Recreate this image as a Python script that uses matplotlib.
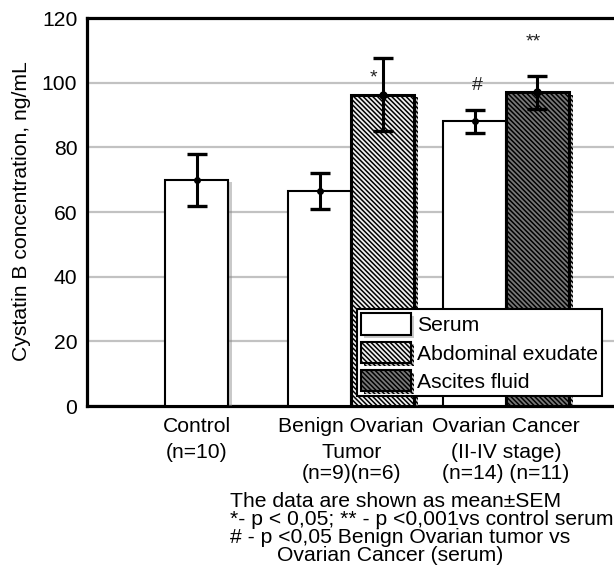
import numpy as np
import matplotlib
matplotlib.use('Agg')
import matplotlib.pyplot as plt
import matplotlib.transforms as mtransforms
import matplotlib.patheffects as pe
from matplotlib.patches import Patch

plt.rcParams['font.family'] = ['Liberation Sans', 'DejaVu Sans']
plt.rcParams['hatch.linewidth'] = 1.1

# data
groups = ['Control\n(n=10)', 'Benign Ovarian\nTumor', 'Ovarian Cancer\n(II-IV stage)']
n_labels = ['', '(n=9)(n=6)', '(n=14) (n=11)']
serum_mean = [70, 66.5, 88]
serum_sem = [8, 5.5, 3.7]
fluid_names = ['Abdominal exudate', 'Ascites fluid']
fluid_mean = [96.3, 97]      # benign tumor exudate, cancer ascites
fluid_sem = [11.3, 5]
sig_marks = ['*', '#', '**']
sig_y = [101.5, 99, 112.5]
notes = ['The data are shown as mean\u00b1SEM',
         '*- p < 0,05; ** - p <0,001vs control serum',
         '# - p <0,05 Benign Ovarian tumor vs',
         '        Ovarian Cancer (serum)']

W, H = 614, 570
fs = 15.2
w = 0.407
hatch = '\\' * 7

fig = plt.figure(figsize=(W / 100, H / 100), dpi=100)
ax = fig.add_axes([87 / W, 1 - 406 / H, 1 - 87 / W, (406 - 18) / H])

x = np.arange(len(groups))
serum_x = np.array([0, 1 - w / 2, 2 - w / 2])
fluid_x = np.array([1 + w / 2, 2 + w / 2])
fluid_face = ['#f0f0f0', '#787878']

shadow = [pe.SimplePatchShadow(offset=(3, -2), shadow_rgbFace='#888888', alpha=0.45), pe.Normal()]

ax.bar(serum_x, serum_mean, width=w, color='white', edgecolor='black', lw=1.5,
       zorder=3, path_effects=shadow)
for i in range(len(fluid_x)):
    ax.bar(fluid_x[i], fluid_mean[i], width=w, color=fluid_face[i], edgecolor='black',
           lw=2.2, hatch=hatch, zorder=3, path_effects=shadow)

ax.errorbar(serum_x, serum_mean, yerr=serum_sem, fmt='o', color='black', ms=4,
            elinewidth=2.2, capsize=7, capthick=2.4, zorder=5)
ax.errorbar(fluid_x, fluid_mean, yerr=fluid_sem, fmt='o', color='black', ms=5,
            elinewidth=2.2, capsize=7, capthick=2.4, zorder=5)

sig_x = [fluid_x[0] - 0.06, serum_x[2] + 0.02, fluid_x[1] - 0.03]
for sx, sy, s in zip(sig_x, sig_y, sig_marks):
    ax.text(sx, sy, s, ha='center', va='center', fontsize=14, color='#222222')

ax.set_xlim((87 - 196.5) / 154.75, (614 - 196.5) / 154.75)
ax.set_ylim(0, 120)
ax.set_yticks(range(0, 121, 20))
ax.yaxis.grid(True, color='#c2c2c2', lw=1.6)
ax.set_axisbelow(True)
ax.set_xticks([])
ax.tick_params(axis='y', length=0, pad=7, labelsize=fs)
for s in ['left', 'bottom', 'top']:
    ax.spines[s].set_linewidth(2.3)
ax.spines['right'].set_visible(False)

fig.text(22 / W, 1 - 211 / H, 'Cystatin B concentration, ng/mL', rotation=90,
         ha='center', va='center', fontsize=fs)

trans = mtransforms.blended_transform_factory(ax.transData, fig.transFigure)
for xi, g, nl in zip(x, groups, n_labels):
    l1, l2 = g.split('\n')
    ax.text(xi, 1 - 432 / H, l1, transform=trans, ha='center', va='baseline', fontsize=fs)
    ax.text(xi, 1 - 458 / H, l2, transform=trans, ha='center', va='baseline', fontsize=fs)
    if nl:
        ax.text(xi, 1 - 479 / H, nl, transform=trans, ha='center', va='baseline', fontsize=fs)

for k, line in enumerate(notes):
    fig.text(230 / W, 1 - (507 + 18 * k) / H, line, ha='left', va='baseline', fontsize=fs)

leg_shadow = [pe.SimplePatchShadow(offset=(2, -2), shadow_rgbFace='#888888', alpha=0.45), pe.Normal()]
handles = [Patch(facecolor='white', edgecolor='black', lw=1.5, path_effects=leg_shadow)]
for i in range(len(fluid_names)):
    handles.append(Patch(facecolor=fluid_face[i], edgecolor='black', lw=1.5, hatch=hatch,
                         path_effects=leg_shadow))
leg = ax.legend(handles, ['Serum'] + fluid_names, loc='lower left',
                bbox_to_anchor=(357 / W, 1 - 396 / H), bbox_transform=fig.transFigure,
                fontsize=fs, fancybox=False, framealpha=1, edgecolor='black',
                handlelength=2.35, handleheight=1.2, labelspacing=0.3,
                handletextpad=0.3, borderpad=0.2, borderaxespad=0)
leg.get_frame().set_linewidth(1.5)
leg.set_zorder(6)

fig.savefig('out.png', dpi=100)
